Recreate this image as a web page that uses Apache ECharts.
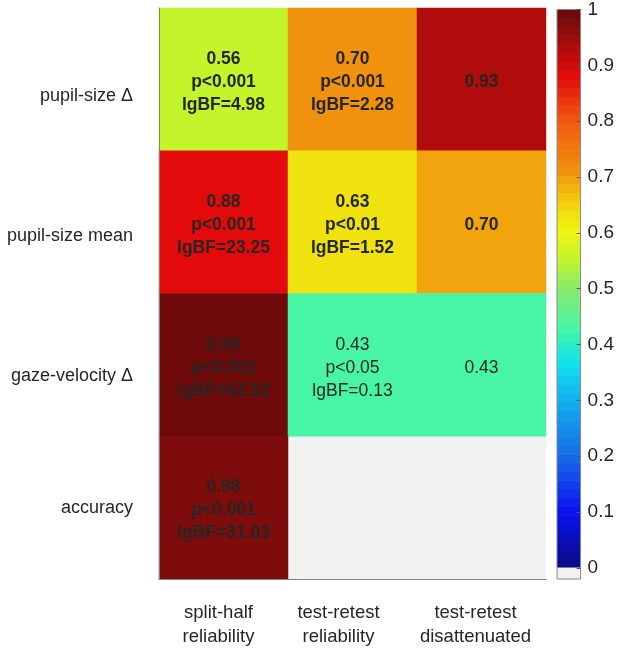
<!DOCTYPE html>
<html><head><meta charset="utf-8">
<script src="https://cdn.jsdelivr.net/npm/echarts@6/dist/echarts.min.js"></script>
<style>html,body{margin:0;padding:0;background:#fff}#c{width:617px;height:649px}</style>
</head><body><div id="c"></div>
<script>
// ---- data ----
const rowLabels = ['pupil-size Δ', 'pupil-size mean', 'gaze-velocity Δ', 'accuracy'];
const colLabels = ['split-half\nreliability', 'test-retest\nreliability', 'test-retest\ndisattenuated'];
const splitHalfR = [0.56, 0.88, 0.99, 0.98];
const splitHalfP = ['p<0.001', 'p<0.001', 'p<0.001', 'p<0.001'];
const splitHalfBF = ['4.98', '23.25', '63.52', '31.03'];
const testRetestR = [0.704, 0.63, 0.43, null];
const testRetestP = ['p<0.001', 'p<0.01', 'p<0.05', null];
const testRetestBF = ['2.28', '1.52', '0.13', null];
const disattR = [0.93, 0.696, 0.43, null];
const colorbarTicks = [0, 0.1, 0.2, 0.3, 0.4, 0.5, 0.6, 0.7, 0.8, 0.9, 1];

// ---- style ----
const FONT = '"Liberation Sans", Arial, Helvetica, sans-serif';
const TXT = '#262626';
const EMPTY = '#f0f1f0';
const yLabelShift = [34, 28, 22, 0];
const xLabelShift = [10, 28, 12];
const NLEV = 64;
const cmapStops = [
  [0.0, '#0a0a82'], [0.1, '#0a12f0'], [0.2, '#186ce6'], [0.3, '#12aeee'],
  [0.37, '#10e4ec'], [0.4297, '#48f5a5'], [0.5, '#88eb6c'], [0.5547, '#c3f52a'],
  [0.605, '#f2f210'], [0.6328, '#f0e20f'], [0.6953, '#f2a40e'], [0.7109, '#f0920e'],
  [0.8, '#f05a0f'], [0.8828, '#e20a0a'], [0.9297, '#b00c0c'], [0.9766, '#7e0c0c'],
  [0.9922, '#6e0a0a'], [1.0, '#680808']
];
function hex2rgb(h) { return [1, 3, 5].map(i => parseInt(h.substr(i, 2), 16)); }
function interp(t) {
  for (let i = 1; i < cmapStops.length; i++) {
    if (t <= cmapStops[i][0]) {
      const a = cmapStops[i - 1], b = cmapStops[i];
      const f = (t - a[0]) / (b[0] - a[0]);
      const ca = hex2rgb(a[1]), cb = hex2rgb(b[1]);
      return 'rgb(' + ca.map((x, k) => Math.round(x + (cb[k] - x) * f)).join(',') + ')';
    }
  }
  return cmapStops[cmapStops.length - 1][1];
}
function levelOf(v) { return Math.max(0, Math.min(NLEV - 1, Math.floor(v * NLEV))); }
function levelColor(k) { return interp((k + 0.5) / NLEV); }
function cmap(v) { return levelColor(levelOf(v)); }

// ---- build heatmap items ----
const cells = [];
rowLabels.forEach((row, r) => {
  const cols = [
    { v: splitHalfR[r], lines: [splitHalfP[r], 'lgBF=' + splitHalfBF[r]], p: splitHalfP[r] },
    { v: testRetestR[r], lines: [testRetestP[r], 'lgBF=' + testRetestBF[r]], p: testRetestP[r] },
    { v: disattR[r], lines: [], p: testRetestP[r] }
  ];
  cols.forEach((c, ci) => {
    if (c.v == null) return;
    const text = [c.v.toFixed(2)].concat(c.lines).join('\n');
    cells.push({
      value: [ci, r, c.v],
      itemStyle: { color: cmap(c.v) },
      label: { formatter: text, fontWeight: c.p === 'p<0.05' ? 'normal' : 'bold' }
    });
  });
});

// colorbar segments: 64 colormap levels + the gray "empty" swatch
const cbSegs = [];
for (let k = 0; k < NLEV; k++) cbSegs.push([k / NLEV, (k + 1) / NLEV, k]);
cbSegs.push([-0.02, 0, -1]);

const yRich = {}, xRich = {};
yLabelShift.forEach((s, i) => { yRich['r' + i] = { padding: [s, 0, 0, 0], fontSize: 18, fontFamily: FONT, color: TXT }; });
xLabelShift.forEach((s, i) => { xRich['c' + i] = { padding: [0, s, 0, 0], fontSize: 18.5, lineHeight: 24, fontFamily: FONT, color: TXT }; });

const chart = echarts.init(document.getElementById('c'), null, { renderer: 'canvas' });
chart.setOption({
  backgroundColor: '#ffffff',
  animation: false,
  grid: [
    { left: 159, top: 8, width: 387, height: 571, show: true, backgroundColor: EMPTY, borderWidth: 0 },
    { left: 557, top: 8, width: 25, height: 571, show: true, backgroundColor: 'transparent', borderColor: '#8a8a8a', borderWidth: 1, z: 10 }
  ],
  xAxis: [
    { type: 'category', gridIndex: 0, data: colLabels, z: 5,
      axisLine: { show: true, lineStyle: { color: '#808080', width: 1 } },
      axisTick: { show: false }, splitLine: { show: false },
      axisLabel: { margin: 22, interval: 0, formatter: (v, i) => '{c' + i + '|' + v + '}', rich: xRich } },
    { type: 'value', gridIndex: 1, min: 0, max: 1, show: false }
  ],
  yAxis: [
    { type: 'category', gridIndex: 0, data: rowLabels, inverse: true, z: 5,
      axisLine: { show: true, lineStyle: { color: '#808080', width: 1 } },
      axisTick: { show: false }, splitLine: { show: false },
      axisLabel: { margin: 26, interval: 0, formatter: (v, i) => '{r' + i + '|' + v + '}', rich: yRich } },
    { type: 'value', gridIndex: 1, min: -0.02, max: 1, position: 'right', z: 11,
      axisLine: { show: false, onZero: false }, splitLine: { show: false },
      axisTick: { show: true, inside: true, length: 4, lineStyle: { color: '#555' }, customValues: colorbarTicks },
      axisLabel: { customValues: colorbarTicks, margin: 7, fontSize: 19, fontFamily: FONT, color: TXT,
                   formatter: v => String(Math.round(v * 10) / 10) } }
  ],
  series: [
    { type: 'heatmap', xAxisIndex: 0, yAxisIndex: 0, data: cells,
      label: { show: true, color: TXT, fontSize: 17.5, lineHeight: 23, fontFamily: FONT, offset: [0, 3] },
      emphasis: { disabled: true } },
    { type: 'custom', xAxisIndex: 1, yAxisIndex: 1, data: cbSegs, silent: true,
      encode: { y: [0, 1] },
      renderItem: (params, api) => {
        const lo = api.value(0), hi = api.value(1), k = api.value(2);
        const p1 = api.coord([0, hi]), p2 = api.coord([1, lo]);
        return { type: 'rect',
          shape: { x: p1[0], y: p1[1] - 0.3, width: p2[0] - p1[0], height: p2[1] - p1[1] + 0.6 },
          style: { fill: k < 0 ? EMPTY : levelColor(k) } };
      } }
  ]
});
</script></body></html>
